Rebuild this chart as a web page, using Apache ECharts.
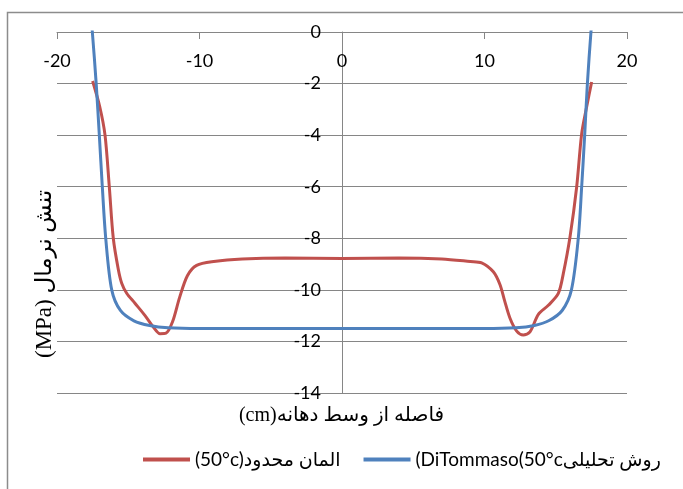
<!DOCTYPE html>
<html>
<head>
<meta charset="utf-8">
<script src="https://cdn.jsdelivr.net/npm/echarts@6/dist/echarts.min.js"></script>
<style>
  html, body { margin: 0; padding: 0; background: #fff; }
  #chart { width: 683px; height: 489px; }
</style>
</head>
<body>
<div id="chart"></div>
<script>
// Axis ranges and tick spacing
const xTicks = { min: -20, max: 20, interval: 10 };
const yTicks = { min: -14, max: 0, interval: 2 };

// Legend / axis texts
const seriesNames = ['(50°c)المان محدود', '(DiTommaso(50°cروش تحلیلی'];
const xTitle = '(cm)فاصله از وسط دهانه';
const yTitle = '(MPa) تنش نرمال';

// Finite element result: [distance from mid-span (cm), normal stress (MPa)]
const feX = [-17.5, -17.0, -16.63, -16.33, -16.05, -15.7, -15.46, -15.11, -14.53, -13.82, -13.24, -12.77, -12.35, -11.9, -11.4, -10.85, -10.2, -9.0, -7.0, -4.0, 0, 4.0, 7.0, 9.0, 9.8, 10.62, 11.09, 11.4, 11.79, 12.26, 12.72, 13.19, 13.78, 14.48, 15.18, 15.53, 16.0, 16.47, 16.82, 17.17, 17.52];
const feY = [-1.9, -2.9, -4.0, -6.0, -8.0, -9.2, -9.74, -10.13, -10.52, -11.0, -11.44, -11.7, -11.68, -11.25, -10.3, -9.45, -9.05, -8.9, -8.8, -8.76, -8.78, -8.76, -8.8, -8.9, -8.95, -9.3, -9.8, -10.4, -11.1, -11.6, -11.75, -11.63, -10.95, -10.6, -10.14, -9.37, -7.95, -6.0, -3.94, -2.9, -1.94];

// Analytical (DiTommaso) result
const anX = [-17.62, -17.52, -17.25, -17.03, -16.82, -16.58, -16.16, -15.55, -14.6, -13.5, -12.2, -10.0, 0, 10.0, 12.2, 13.5, 14.5, 15.45, 16.1, 16.58, 16.82, 17.03, 17.22, 17.47, 17.57];
const anY = [0.5, 0, -2, -4, -6, -8, -10, -10.8, -11.2, -11.38, -11.47, -11.5, -11.5, -11.5, -11.47, -11.38, -11.2, -10.8, -10, -8, -6, -4, -2, 0, 0.5];

const pairs = (xs, ys) => xs.map((x, i) => [x, ys[i]]);

const gray = '#868686';
const latin = "Lato, 'DejaVu Sans', sans-serif";
const serif = "'Liberation Serif', 'DejaVu Sans', serif";

const gridLeft = 57, gridRight = 56, chartWidth = 683;
// the vertical axis crosses the horizontal one at x = 0 (middle of the range)
const yAxisShift = -(chartWidth - gridLeft - gridRight) *
  (0 - xTicks.min) / (xTicks.max - xTicks.min);

const chart = echarts.init(document.getElementById('chart'), null, { renderer: 'canvas' });
chart.setOption({
  animation: false,
  backgroundColor: '#fff',
  grid: { left: gridLeft, right: gridRight, top: 32, bottom: 96, containLabel: false },
  legend: {
    left: 143, top: 450, padding: 0,
    icon: 'rect', itemWidth: 47, itemHeight: 4, itemGap: 23,
    textStyle: { fontFamily: latin, fontSize: 19, color: '#000' },
    data: seriesNames
  },
  xAxis: {
    type: 'value', position: 'top',
    min: xTicks.min, max: xTicks.max, interval: xTicks.interval,
    axisLine: { onZero: false, lineStyle: { color: gray, width: 1 } },
    axisTick: { show: true, inside: true, length: 7, lineStyle: { color: gray } },
    axisLabel: { inside: true, margin: 20, fontFamily: latin, fontSize: 18, color: '#000' },
    splitLine: { show: false }
  },
  yAxis: {
    type: 'value', position: 'left', offset: yAxisShift,
    min: yTicks.min, max: yTicks.max, interval: yTicks.interval,
    axisLine: { show: true, onZero: false, lineStyle: { color: gray, width: 1 } },
    axisTick: { show: false },
    axisLabel: { margin: 21, fontFamily: latin, fontSize: 18, color: '#000' },
    splitLine: { show: true, lineStyle: { color: gray, width: 1 } }
  },
  series: [
    {
      name: seriesNames[0], type: 'line', data: pairs(feX, feY),
      smooth: 0.3, symbol: 'none', clip: true,
      lineStyle: { color: '#C0504D', width: 3 }, itemStyle: { color: '#C0504D' }
    },
    {
      name: seriesNames[1], type: 'line', data: pairs(anX, anY),
      smooth: 0.3, symbol: 'none', clip: true,
      lineStyle: { color: '#4F81BD', width: 3 }, itemStyle: { color: '#4F81BD' }
    }
  ],
  graphic: [
    {
      type: 'rect', silent: true,
      shape: { x: 7.5, y: 12.5, width: 700, height: 500 },
      style: { fill: 'none', stroke: '#8c8c8c', lineWidth: 1.5 }
    },
    {
      type: 'text', left: 'center', top: 406,
      style: { text: xTitle, font: "20px " + serif, fill: '#000' }
    },
    {
      type: 'text', x: 45, y: 274, rotation: Math.PI / 2,
      style: { text: yTitle, font: "23px " + serif, fill: '#000', align: 'center', verticalAlign: 'middle' }
    }
  ]
});
</script>
</body>
</html>
